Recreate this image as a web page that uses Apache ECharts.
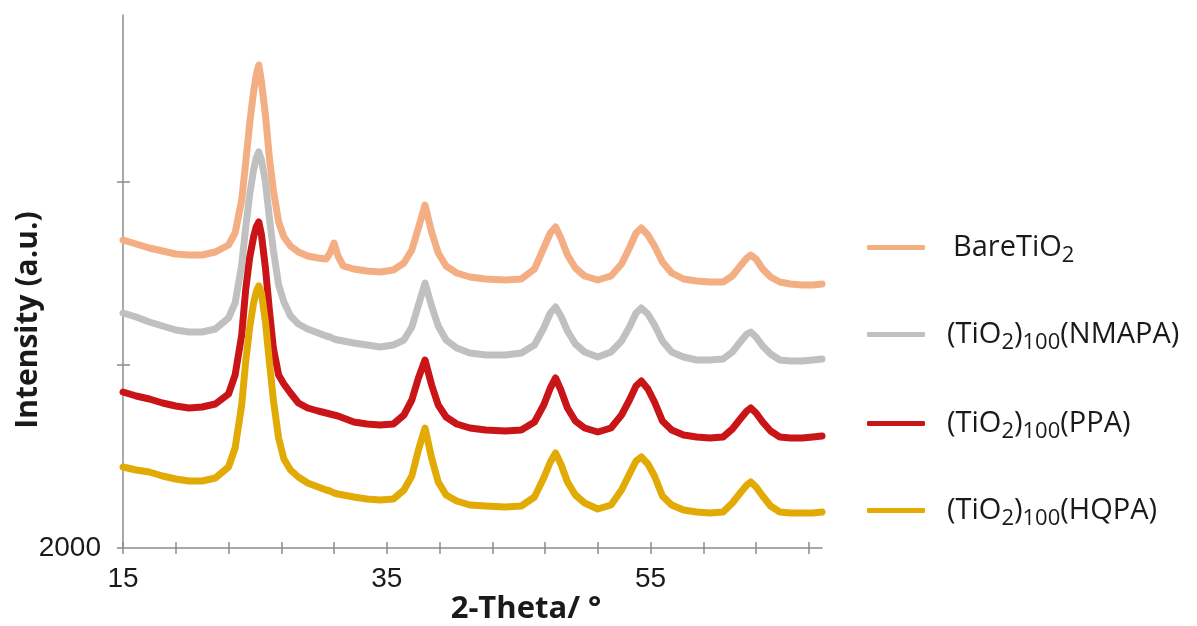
<!DOCTYPE html>
<html><head><meta charset="utf-8">
<script src="https://cdn.jsdelivr.net/npm/echarts@6/dist/echarts.min.js"></script>
<style>html,body{margin:0;padding:0;background:#fff}#c{width:1197px;height:626px}</style>
</head><body><div id="c"></div>
<script>
// 2-Theta positions (degrees)
const twoTheta = [15,16,17,18,19,20,21,22,23,23.5,24,24.3,24.6,24.9,25.1,25.3,25.5,25.8,26.1,26.4,26.8,27.2,27.7,28.3,29,29.8,30.4,30.7,31.0,31.3,31.7,32.5,33.5,34.5,35.5,36.3,36.9,37.4,37.9,38.4,38.9,39.5,40.3,41.3,42.5,44,45.2,46.2,46.9,47.4,47.8,48.2,48.7,49.3,50,51,52,52.8,53.4,53.9,54.3,54.8,55.3,55.9,56.6,57.5,58.5,59.5,60.5,61.2,61.8,62.3,62.6,63.0,63.5,64.1,64.8,65.6,66.5,67.3,68];
// Intensities (offset as in the figure)
const bareTiO2 = [5080,5040,5000,4970,4940,4930,4930,4960,5030,5150,5480,5850,6240,6560,6730,6830,6660,6330,5900,5580,5260,5110,5020,4960,4920,4900,4890,4950,5050,4920,4820,4790,4770,4760,4780,4850,4980,5200,5430,5160,4950,4820,4750,4710,4690,4680,4690,4790,5000,5150,5210,5100,4930,4800,4720,4680,4720,4840,5000,5150,5200,5130,5020,4860,4750,4690,4670,4660,4660,4720,4820,4900,4930,4890,4790,4710,4660,4640,4630,4630,4640];
const nmapa = [4350,4310,4260,4220,4180,4160,4160,4190,4300,4450,4830,5200,5530,5780,5900,5960,5880,5660,5300,4980,4630,4460,4320,4240,4190,4150,4120,4110,4090,4080,4070,4050,4030,4010,4030,4080,4210,4430,4650,4420,4220,4080,4000,3950,3930,3930,3950,4030,4200,4350,4410,4320,4170,4040,3960,3910,3960,4070,4210,4350,4400,4340,4230,4070,3960,3910,3880,3880,3890,3960,4060,4140,4160,4110,4020,3940,3880,3870,3870,3880,3890];
const ppa = [3560,3520,3490,3450,3420,3400,3410,3440,3540,3730,4130,4580,4900,5110,5210,5260,5130,4800,4380,4000,3730,3640,3550,3450,3400,3370,3350,3340,3330,3320,3300,3260,3240,3230,3240,3330,3480,3700,3880,3630,3430,3310,3240,3200,3180,3170,3180,3260,3430,3600,3700,3580,3400,3270,3200,3160,3200,3330,3480,3620,3670,3590,3460,3270,3180,3130,3110,3100,3110,3190,3290,3370,3400,3350,3260,3170,3110,3100,3100,3110,3120];
const hqpa = [2810,2780,2760,2720,2690,2670,2670,2700,2810,3000,3430,3860,4200,4450,4560,4620,4550,4260,3860,3480,3100,2890,2780,2710,2650,2610,2580,2570,2550,2540,2530,2510,2490,2480,2490,2580,2720,2980,3200,2900,2660,2530,2470,2430,2420,2410,2420,2510,2700,2860,2950,2840,2660,2530,2450,2390,2430,2580,2740,2870,2910,2840,2720,2520,2430,2380,2360,2350,2360,2450,2550,2630,2660,2610,2520,2420,2360,2350,2350,2350,2360];

const seriesNames = ['BareTiO2', '(TiO2)100(NMAPA)', '(TiO2)100(PPA)', '(TiO2)100(HQPA)'];
const legendRich = ['BareTiO{s|2}', '(TiO{s|2}){s|100}(NMAPA)', '(TiO{s|2}){s|100}(PPA)', '(TiO{s|2}){s|100}(HQPA)'];
const xTickValues = [15,19,23,27,31,35,39,43,47,51,55,59,63,67];
const xLabelValues = [15,35,55];
const yTickValues = [2000,3830,5660];
const yLabelValues = [2000];

const colors = ['#F4AE84', '#C0C0C0', '#C91517', '#E2AA05'];
const allData = [bareTiO2, nmapa, ppa, hqpa];
const axisColor = '#8c8c8c';
const txt = '#1a1a1a';

const chart = echarts.init(document.getElementById('c'));
const legendCenters = [247, 334, 423, 510];
const legends = seriesNames.map((n, i) => ({
  data: [n], orient: 'vertical', left: 867, top: legendCenters[i] - 19, padding: 0,
  icon: 'roundRect', itemWidth: 58, itemHeight: 5, selectedMode: false,
  formatter: () => legendRich[i],
  textStyle: {
    fontFamily: 'Open Sans', fontSize: 29, color: txt, lineHeight: 36,
    padding: [0, 0, 0, i === 0 ? 23 : 17],
    rich: { s: { fontFamily: 'Open Sans', fontSize: 22, color: txt, lineHeight: 22, padding: [17, 0, 0, 0], verticalAlign: 'middle' } }
  }
}));

chart.setOption({
  animation: false,
  backgroundColor: '#fff',
  grid: { left: 123, right: 375, top: 15, bottom: 78 },
  legend: legends,
  xAxis: [
    { type: 'value', min: 15, max: 68, position: 'bottom',
      axisLine: { show: true, lineStyle: { color: axisColor, width: 1.5 } },
      axisTick: { show: true, customValues: xTickValues, length: 6, lineStyle: { color: axisColor, width: 1.5 } },
      axisLabel: { customValues: xLabelValues, formatter: v => String(v), fontFamily: 'Liberation Sans', fontSize: 28, color: txt, margin: 17 },
      splitLine: { show: false } },
    { type: 'value', min: 15, max: 68, position: 'bottom', gridIndex: 0,
      axisLine: { show: false },
      axisTick: { show: true, inside: true, customValues: xTickValues, length: 6, lineStyle: { color: axisColor, width: 1.5 } },
      axisLabel: { show: false }, splitLine: { show: false } }
  ],
  yAxis: [
    { type: 'value', min: 2000, max: 7330, position: 'left',
      axisLine: { show: true, lineStyle: { color: axisColor, width: 1.5 } },
      axisTick: { show: true, customValues: yTickValues, length: 6, lineStyle: { color: axisColor, width: 1.5 } },
      axisLabel: { customValues: yLabelValues, formatter: v => String(v), fontFamily: 'Liberation Sans', fontSize: 28, color: txt, margin: 22 },
      splitLine: { show: false } },
    { type: 'value', min: 2000, max: 7330, position: 'left', gridIndex: 0,
      axisLine: { show: false },
      axisTick: { show: true, inside: true, customValues: yTickValues.slice(1), length: 7, lineStyle: { color: axisColor, width: 1.5 } },
      axisLabel: { show: false }, splitLine: { show: false } }
  ],
  graphic: [
    { type: 'text', x: 526, y: 609, style: { text: '2-Theta/ °', fontFamily: 'Open Sans', fontWeight: 'bold', fontSize: 31, fill: txt, align: 'center', verticalAlign: 'middle' } },
    { type: 'text', x: 28, y: 320, rotation: Math.PI / 2, style: { text: 'Intensity (a.u.)', fontFamily: 'Open Sans', fontWeight: 'bold', fontSize: 30, fill: txt, align: 'center', verticalAlign: 'middle' } }
  ],
  series: seriesNames.map((n, i) => ({
    type: 'line', name: n, xAxisIndex: 0, yAxisIndex: 0,
    data: twoTheta.map((x, k) => [x, allData[i][k]]),
    showSymbol: false, symbol: 'none', smooth: false,
    lineStyle: { width: 7, color: colors[i], join: 'round', cap: 'round' },
    itemStyle: { color: colors[i] },
    emphasis: { disabled: true }
  }))
});
</script></body></html>
